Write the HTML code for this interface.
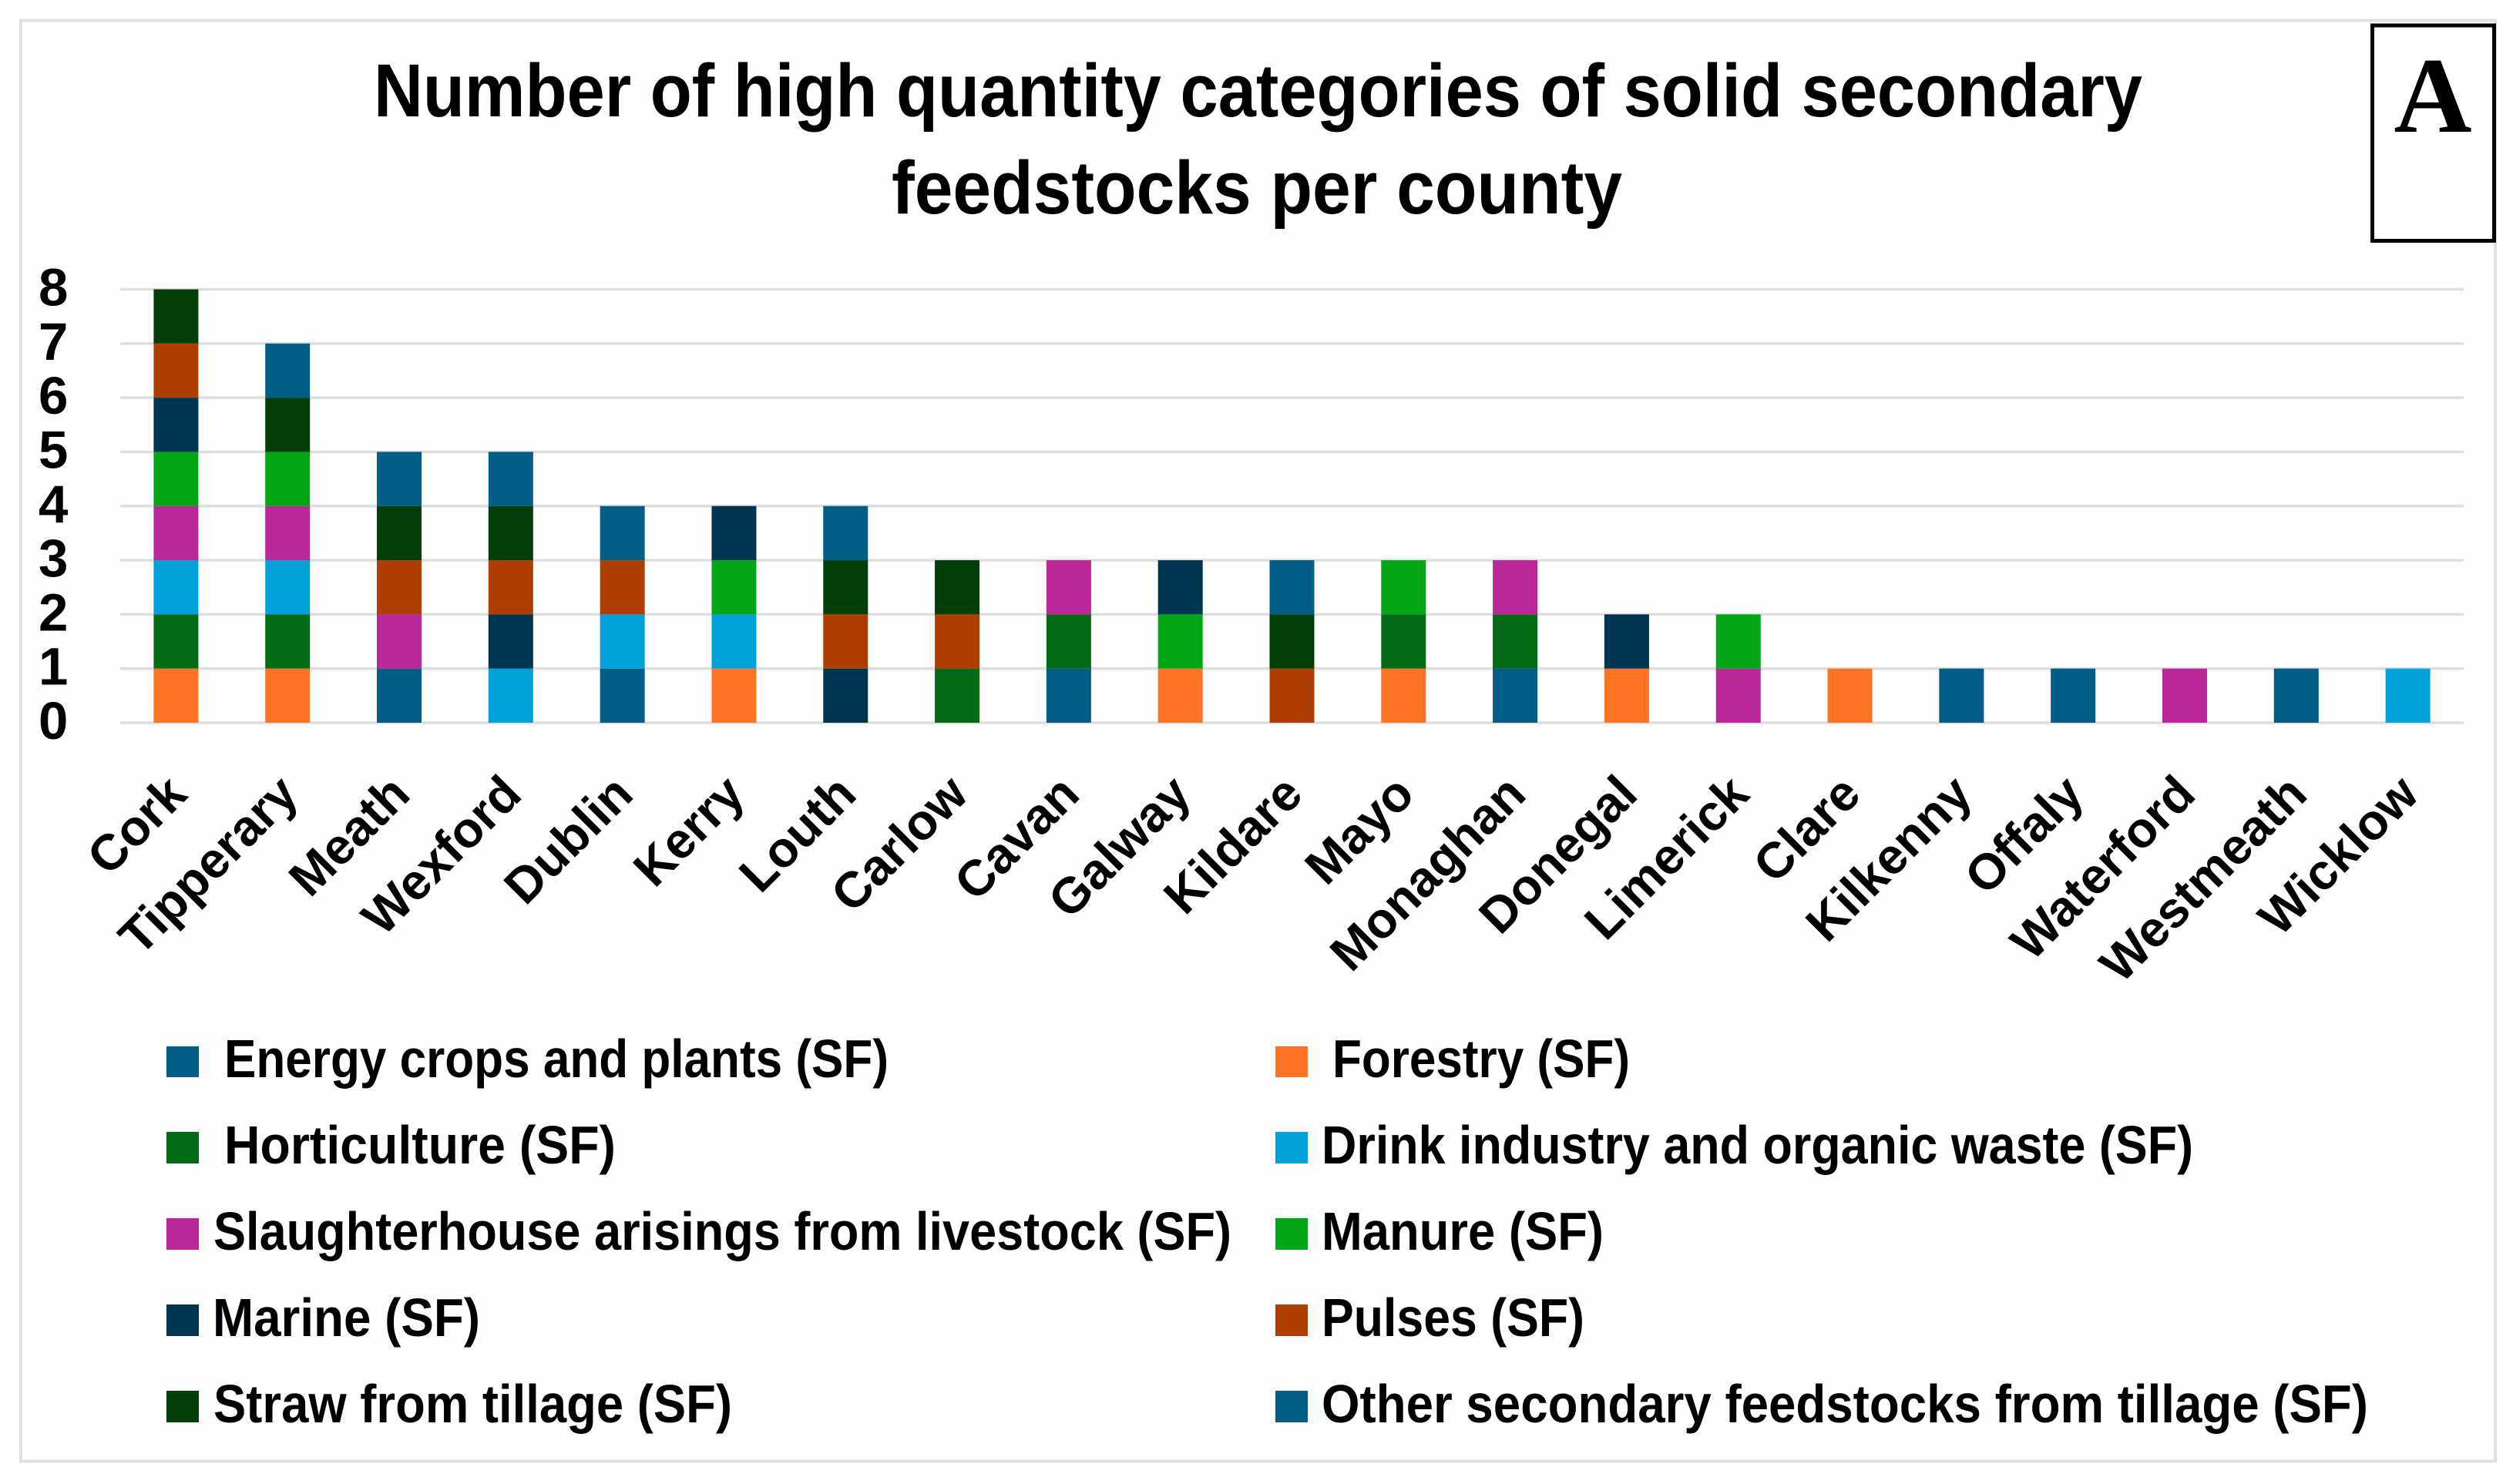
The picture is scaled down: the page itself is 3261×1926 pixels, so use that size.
<!DOCTYPE html>
<html lang="en">
<head>
<meta charset="utf-8">
<title>Number of high quantity categories of solid secondary feedstocks per county</title>
<style>
html,body{margin:0;padding:0;background:#fff;}
svg{display:block;}
text{font-family:"Liberation Sans",sans-serif;font-weight:bold;fill:#000;}
.legend-label{font-size:70px;}
.title-line{font-size:97px;}
</style>
</head>
<body>
<svg id="chart" xmlns="http://www.w3.org/2000/svg" width="3261" height="1926" viewBox="0 0 3261 1926">
  <rect x="27" y="26.5" width="3211" height="1870" fill="#fefefe" stroke="#e0e0e0" stroke-width="4"/>
  <text class="title-line" x="485" y="151" textLength="2295" lengthAdjust="spacingAndGlyphs">Number of high quantity categories of solid secondary</text>
  <text class="title-line" x="1157" y="277" textLength="948" lengthAdjust="spacingAndGlyphs">feedstocks per county</text>
  <g id="grid"></g>
  <g id="yticks"></g>
  <g id="bars"></g>
  <g id="xticks"></g>

  <g>
    <rect x="3078.5" y="33" width="158" height="279.5" fill="#fff" stroke="#000" stroke-width="5"/>
    <text x="3157" y="171" text-anchor="middle" style="font-family:'Liberation Serif',serif;font-size:140px;">A</text>
  </g>

  <g>
    <g>
      <rect x="216" y="1358" width="42" height="40" fill="#025e87"/>
      <text class="legend-label" x="291" y="1398" textLength="862" lengthAdjust="spacingAndGlyphs">Energy crops and plants (SF)</text>
    </g>
    <g>
      <rect x="216" y="1469" width="42" height="41" fill="#046a16"/>
      <text class="legend-label" x="291" y="1510" textLength="508" lengthAdjust="spacingAndGlyphs">Horticulture (SF)</text>
    </g>
    <g>
      <rect x="216" y="1581" width="42" height="41" fill="#ba2799"/>
      <text class="legend-label" x="277" y="1622" textLength="1321" lengthAdjust="spacingAndGlyphs">Slaughterhouse arisings from livestock (SF)</text>
    </g>
    <g>
      <rect x="216" y="1693" width="42" height="41" fill="#003551"/>
      <text class="legend-label" x="276" y="1734" textLength="347" lengthAdjust="spacingAndGlyphs">Marine (SF)</text>
    </g>
    <g>
      <rect x="216" y="1805" width="42" height="41" fill="#023f08"/>
      <text class="legend-label" x="277" y="1846" textLength="673" lengthAdjust="spacingAndGlyphs">Straw from tillage (SF)</text>
    </g>
    <g>
      <rect x="1655" y="1358" width="42" height="40" fill="#ff7327"/>
      <text class="legend-label" x="1729" y="1398" textLength="386" lengthAdjust="spacingAndGlyphs">Forestry (SF)</text>
    </g>
    <g>
      <rect x="1655" y="1469" width="42" height="41" fill="#00a2d9"/>
      <text class="legend-label" x="1715" y="1510" textLength="1131" lengthAdjust="spacingAndGlyphs">Drink industry and organic waste (SF)</text>
    </g>
    <g>
      <rect x="1655" y="1581" width="42" height="41" fill="#02a718"/>
      <text class="legend-label" x="1715" y="1622" textLength="366" lengthAdjust="spacingAndGlyphs">Manure (SF)</text>
    </g>
    <g>
      <rect x="1655" y="1693" width="42" height="41" fill="#ae3e02"/>
      <text class="legend-label" x="1715" y="1734" textLength="341" lengthAdjust="spacingAndGlyphs">Pulses (SF)</text>
    </g>
    <g>
      <rect x="1655" y="1805" width="42" height="41" fill="#025e87"/>
      <text class="legend-label" x="1715" y="1846" textLength="1358" lengthAdjust="spacingAndGlyphs">Other secondary feedstocks from tillage (SF)</text>
    </g>
  </g>
</svg>
<script>
// Chart data: category names, tick labels, and one presence count per county for each series.
const counties = ["Cork","Tipperary","Meath","Wexford","Dublin","Kerry","Louth","Carlow","Cavan","Galway","Kildare","Mayo","Monaghan","Donegal","Limerick","Clare","Kilkenny","Offaly","Waterford","Westmeath","Wicklow"];
const yTickLabels = [0,1,2,3,4,5,6,7,8];
const energyCrops  = [0,0,1,0,1,0,0,0,1,0,0,0,1,0,0,0,1,1,0,1,0];
const forestry     = [1,1,0,0,0,1,0,0,0,1,0,1,0,1,0,1,0,0,0,0,0];
const horticulture = [1,1,0,0,0,0,0,1,1,0,0,1,1,0,0,0,0,0,0,0,0];
const drinkIndustry= [1,1,0,1,1,1,0,0,0,0,0,0,0,0,0,0,0,0,0,0,1];
const slaughter    = [1,1,1,0,0,0,0,0,1,0,0,0,1,0,1,0,0,0,1,0,0];
const manure       = [1,1,0,0,0,1,0,0,0,1,0,1,0,0,1,0,0,0,0,0,0];
const marine       = [1,0,0,1,0,1,1,0,0,1,0,0,0,1,0,0,0,0,0,0,0];
const pulses       = [1,0,1,1,1,0,1,1,0,0,1,0,0,0,0,0,0,0,0,0,0];
const straw        = [1,1,1,1,0,0,1,1,0,0,1,0,0,0,0,0,0,0,0,0,0];
const otherTillage = [0,1,1,1,1,0,1,0,0,0,1,0,0,0,0,0,0,0,0,0,0];

const seriesValues = [energyCrops,forestry,horticulture,drinkIndustry,slaughter,manure,marine,pulses,straw,otherTillage];
const seriesKeys = ["energy-crops","forestry","horticulture","drink-industry","slaughterhouse","manure","marine","pulses","straw","other-tillage"];
const seriesColors = ["#025e87","#ff7327","#046a16","#00a2d9","#ba2799","#02a718","#003551","#ae3e02","#023f08","#025e87"];

const NS = "http://www.w3.org/2000/svg";
const plotLeft = 156, plotRight = 3197, plotTop = 375.5, plotBottom = 938;
const yMax = yTickLabels[yTickLabels.length - 1];
const yScale = v => plotBottom - (v / yMax) * (plotBottom - plotTop);
const xBand = (plotRight - plotLeft) / counties.length;
const xCenter = i => plotLeft + xBand * (i + 0.5);
const barWidth = 58;

const gridGroup = document.getElementById("grid");
const yGroup = document.getElementById("yticks");
yTickLabels.forEach(t => {
  const line = document.createElementNS(NS, "line");
  
  
  line.setAttribute("x1", plotLeft);
  line.setAttribute("x2", plotRight);
  line.setAttribute("y1", yScale(t));
  line.setAttribute("y2", yScale(t));
  line.setAttribute("stroke", "#dedede");
  line.setAttribute("stroke-width", "3.5");
  gridGroup.appendChild(line);

  const label = document.createElementNS(NS, "text");
  
  
  label.setAttribute("x", 50);
  label.setAttribute("y", yScale(t) + 21);
  label.setAttribute("font-size", "69");
  label.textContent = t;
  yGroup.appendChild(label);
});

const barGroup = document.getElementById("bars");
const xGroup = document.getElementById("xticks");
counties.forEach((name, i) => {
  let base = 0;
  seriesValues.forEach((values, s) => {
    const v = values[i];
    if (!v) return;
    const rect = document.createElementNS(NS, "rect");
    
    
    rect.setAttribute("x", xCenter(i) - barWidth / 2);
    rect.setAttribute("y", yScale(base + v));
    rect.setAttribute("width", barWidth);
    rect.setAttribute("height", yScale(base) - yScale(base + v));
    rect.setAttribute("fill", seriesColors[s]);
    barGroup.appendChild(rect);
    base += v;
  });

  const tick = document.createElementNS(NS, "text");
  
  
  tick.setAttribute("text-anchor", "end");
  tick.setAttribute("font-size", "65");
  tick.setAttribute("transform", "translate(" + (xCenter(i) + 17) + ",1034) rotate(-45)");
  tick.textContent = name;
  xGroup.appendChild(tick);
});
</script>
</body>
</html>
